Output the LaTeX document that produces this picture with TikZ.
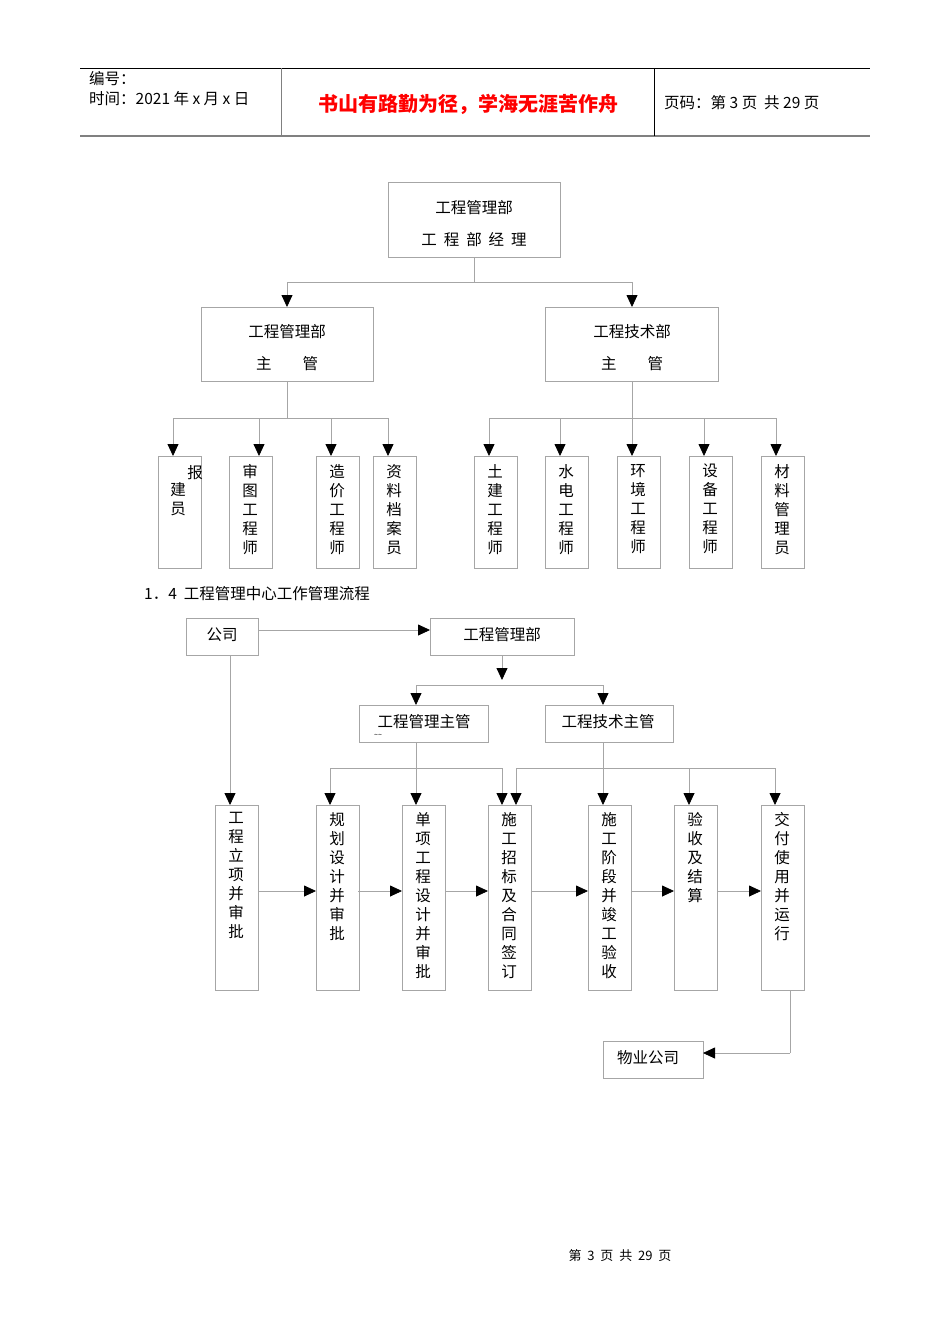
\documentclass[tikz,border=0pt]{standalone}
\usepackage{fontspec}
\setmainfont{Noto Sans CJK SC}
\usetikzlibrary{arrows.meta}
\begin{document}
\begin{tikzpicture}[x=1pt,y=-1pt,
  box/.style={draw=gray!70,line width=0.8pt},
  ln/.style={draw=gray!70,line width=0.8pt},
  ar/.style={ln,-{Triangle[length=12pt,width=11pt,fill=black,color=black]}},
  lbl/.style={font=\fontsize{15.5}{17}\selectfont,inner sep=0pt},
  vt/.style={font=\fontsize{15.5}{19}\selectfont,align=center,inner sep=0pt,anchor=north}]
\useasboundingbox (0,0) rectangle (950,1344);
% header
\draw[line width=0.8pt] (80,68) -- (870,68);
\draw[gray,line width=1.2pt] (80,136) -- (870,136);
\draw[gray,line width=0.8pt] (281,68) -- (281,136);
\draw[line width=0.6pt] (654,68) -- (654,136);
\node[lbl,anchor=west] (h1) at (89,79) {编号：};
\node[lbl,anchor=west] (h2) at (89,99) {时间：2021 年 x 月 x 日};
\node[font=\fontsize{20}{22}\selectfont\bfseries,text=red,inner sep=0pt] (h3) at (468,104) {书山有路勤为径，学海无涯苦作舟};
\node[lbl,anchor=west] (h4) at (664,103) {页码：第 3 页\ \ 共 29 页};
% org chart
\draw[box] (388,182) rectangle (560,257);
\node[lbl] (t0a) at (474,208) {工程管理部};
\node[lbl] (t0b) at (474,240) {工\ \ 程\ \ 部\ \ 经\ \ 理};
\draw[ln] (474,257) -- (474,282);
\draw[ln] (287,282) -- (632,282);
\draw[ar] (287,282) -- (287,307);
\draw[ar] (632,282) -- (632,307);
\draw[box] (201,307) rectangle (373,381);
\node[lbl] (l1a) at (287,332) {工程管理部};
\node[lbl] (l1b) at (287,364) {主\qquad 管};
\draw[box] (545,307) rectangle (718,381);
\node[lbl] (r1a) at (632,332) {工程技术部};
\node[lbl] (r1b) at (632,364) {主\qquad 管};
\draw[ln] (287,381) -- (287,418);
\draw[ln] (173,418) -- (388,418);
\draw[ln] (632,381) -- (632,418);
\draw[ln] (489,418) -- (776,418);
\foreach \x in {173,259,331,388,489,560,632,704,776} \draw[ar] (\x,418) -- (\x,456);
\foreach \a/\x in {158/a,229/b,316/c,373/d,474/e,545/f,617/g,689/h,761/i} \draw[box] (\a,456) rectangle ++(43,112);
\node[lbl] (p1) at (195,473) {报};
\node[vt] (p2) at (178,482) {建\\员};
\node[vt] (p3) at (250,464) {审\\图\\工\\程\\师};
\node[vt] (p4) at (337,464) {造\\价\\工\\程\\师};
\node[vt] (p5) at (394,464) {资\\料\\档\\案\\员};
\node[vt] (p6) at (495,464) {土\\建\\工\\程\\师};
\node[vt] (p7) at (566,464) {水\\电\\工\\程\\师};
\node[vt] (p8) at (638,464) {环\\境\\工\\程\\师};
\node[vt] (p9) at (710,464) {设\\备\\工\\程\\师};
\node[vt] (p10) at (782,464) {材\\料\\管\\理\\员};
\node[lbl,anchor=west] (sec) at (144,594) {1．4\ \ 工程管理中心工作管理流程};
% flow
\draw[box] (186,618) rectangle (258,655);
\node[lbl] (gs) at (222,635) {公司};
\draw[box] (430,618) rectangle (574,655);
\node[lbl] (gb) at (502,635) {工程管理部};
\draw[ar] (258,630) -- (430,630);
\draw[ar] (502,655) -- (502,680);
\draw[ln] (416,685) -- (603,685);
\draw[ar] (416,685) -- (416,705);
\draw[ar] (603,685) -- (603,705);
\draw[box] (359,705) rectangle (488,742);
\node[lbl] (zg1) at (424,722) {工程管理主管};
\node[font=\scriptsize,inner sep=0pt] (sq) at (378,736) {\textasciitilde\textasciitilde};
\draw[box] (545,705) rectangle (673,742);
\node[lbl] (zg2) at (608,722) {工程技术主管};
\draw[ln] (416,742) -- (416,768);
\draw[ln] (330,768) -- (502,768);
\foreach \x in {330,416,502} \draw[ar] (\x,768) -- (\x,805);
\draw[ln] (603,742) -- (603,768);
\draw[ln] (516,768) -- (775,768);
\foreach \x in {516,603,689,775} \draw[ar] (\x,768) -- (\x,805);
\draw[ar] (230,655) -- (230,805);
\foreach \a in {215,316,402,488,588,674,761} \draw[box] (\a,805) rectangle ++(43,185);
\foreach \a/\b in {258/316,358/402,445/488,531/588,631/674,717/761} \draw[ar] (\a,891) -- (\b,891);
\node[vt] (f1) at (236,812) {工\\程\\立\\项\\并\\审\\批};
\node[vt] (f2) at (337,812) {规\\划\\设\\计\\并\\审\\批};
\node[vt] (f3) at (423,812) {单\\项\\工\\程\\设\\计\\并\\审\\批};
\node[vt] (f4) at (509,812) {施\\工\\招\\标\\及\\合\\同\\签\\订};
\node[vt] (f5) at (609,812) {施\\工\\阶\\段\\并\\竣\\工\\验\\收};
\node[vt] (f6) at (695,812) {验\\收\\及\\结\\算};
\node[vt] (f7) at (782,812) {交\\付\\使\\用\\并\\运\\行};
\draw[box] (603,1041) rectangle (703,1078);
\node[lbl] (wy) at (648,1058) {物业公司};
\draw[ln] (790,990) -- (790,1053);
\draw[ar] (790,1053) -- (703,1053);
\node[font=\fontsize{13}{15}\selectfont,inner sep=0pt] (ft) at (620,1256) {第\ \ 3\ \ 页\ \ 共\ \ 29\ \ 页};
\end{tikzpicture}
\end{document}
